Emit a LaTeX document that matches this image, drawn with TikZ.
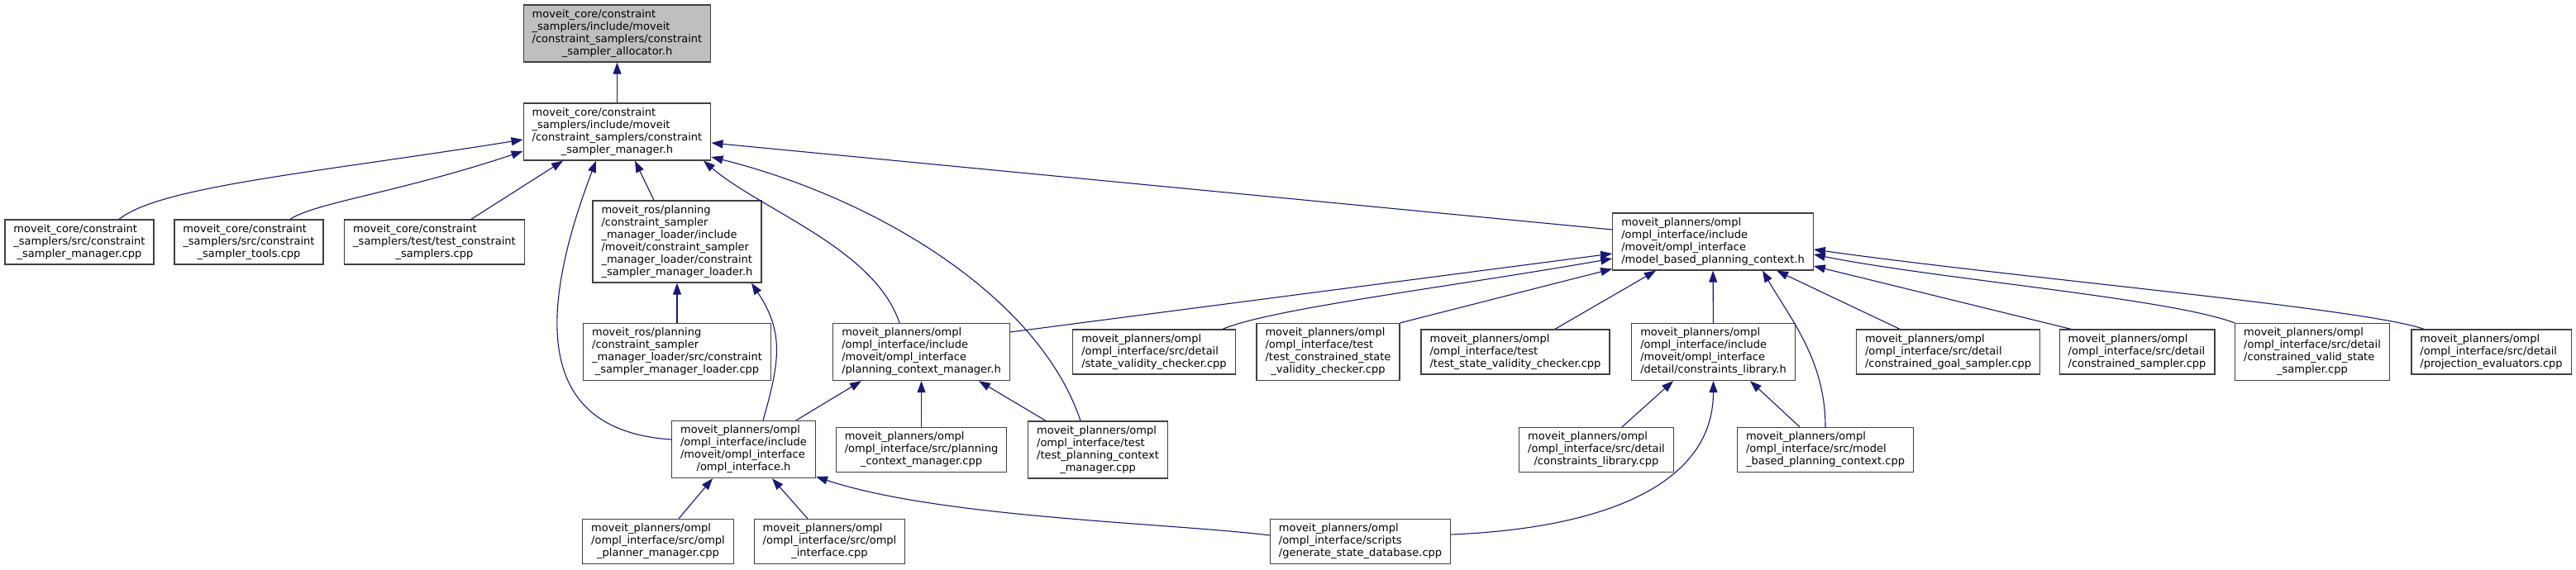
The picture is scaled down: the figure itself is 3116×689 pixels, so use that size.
\documentclass[tikz,border=0pt]{standalone}
\usepackage{fontspec}
\setmainfont{DejaVu Sans}
\usepackage{xcolor}
\usepackage{tikz}
\usetikzlibrary{arrows.meta}
\definecolor{edgeblue}{HTML}{191970}
\definecolor{rootgray}{HTML}{BFBFBF}
\definecolor{boxline}{HTML}{404040}
% lines left, last line centred
\newcommand{\flbl}[2]{\begin{tabular}{@{}l@{}}#1\\\multicolumn{1}{@{}c@{}}{#2}\end{tabular}}

\begin{document}
\begin{tikzpicture}[x=1pt, y=-1pt,
    file/.style={draw=boxline, line width=1.3pt, fill=white, inner xsep=10.5pt, inner ysep=4.5pt,
        font=\fontsize{13}{15}\selectfont},
    root/.style={file, fill=rootgray},
    inc/.style={edgeblue, line width=1.1pt, {Triangle[length=14pt,width=10pt]}-}]
    % Page
    \fill[white] (0,0) rectangle (3116,689);
    % Headers at the top
    \node[root] (alloc) at (746.5,40.5) {\flbl{moveit\_core/constraint\\\_samplers/include/moveit\\/constraint\_samplers/constraint}{\_sampler\_allocator.h}};
    \node[file] (mgrh)  at (746.5,159.5) {\flbl{moveit\_core/constraint\\\_samplers/include/moveit\\/constraint\_samplers/constraint}{\_sampler\_manager.h}};
    % Third row
    \node[file] (smgrcpp)  at (96,293)    {\flbl{moveit\_core/constraint\\\_samplers/src/constraint}{\_sampler\_manager.cpp}};
    \node[file] (toolscpp) at (301,293)   {\flbl{moveit\_core/constraint\\\_samplers/src/constraint}{\_sampler\_tools.cpp}};
    \node[file] (testcs)   at (525.5,293) {\flbl{moveit\_core/constraint\\\_samplers/test/test\_constraint}{\_samplers.cpp}};
    \node[file] (loaderh)  at (819,292.5) {\flbl{moveit\_ros/planning\\/constraint\_sampler\\\_manager\_loader/include\\/moveit/constraint\_sampler\\\_manager\_loader/constraint}{\_sampler\_manager\_loader.h}};
    \node[file] (mbpch)    at (2072,292.5) {\flbl{moveit\_planners/ompl\\/ompl\_interface/include\\/moveit/ompl\_interface}{/model\_based\_planning\_context.h}};
    % Fourth row
    \node[file] (loadercpp) at (819,426)    {\flbl{moveit\_ros/planning\\/constraint\_sampler\\\_manager\_loader/src/constraint}{\_sampler\_manager\_loader.cpp}};
    \node[file] (pcmh)      at (1114.5,426) {\flbl{moveit\_planners/ompl\\/ompl\_interface/include\\/moveit/ompl\_interface}{/planning\_context\_manager.h}};
    \node[file] (svccpp)    at (1396,426)   {\flbl{moveit\_planners/ompl\\/ompl\_interface/src/detail}{/state\_validity\_checker.cpp}};
    \node[file] (testcsvc)  at (1606.5,426) {\flbl{moveit\_planners/ompl\\/ompl\_interface/test\\/test\_constrained\_state}{\_validity\_checker.cpp}};
    \node[file] (testsvc)   at (1833,426)   {\flbl{moveit\_planners/ompl\\/ompl\_interface/test}{/test\_state\_validity\_checker.cpp}};
    \node[file] (clibh)     at (2072.5,426) {\flbl{moveit\_planners/ompl\\/ompl\_interface/include\\/moveit/ompl\_interface}{/detail/constraints\_library.h}};
    \node[file] (cgscpp)    at (2356.5,426) {\flbl{moveit\_planners/ompl\\/ompl\_interface/src/detail}{/constrained\_goal\_sampler.cpp}};
    \node[file] (cscpp)     at (2585,426)   {\flbl{moveit\_planners/ompl\\/ompl\_interface/src/detail}{/constrained\_sampler.cpp}};
    \node[file] (cvsscpp)   at (2797,426)   {\flbl{moveit\_planners/ompl\\/ompl\_interface/src/detail\\/constrained\_valid\_state}{\_sampler.cpp}};
    \node[file] (pecpp)     at (3013.5,426) {\flbl{moveit\_planners/ompl\\/ompl\_interface/src/detail}{/projection\_evaluators.cpp}};
    % Fifth row
    \node[file] (omplh)   at (899.5,544)  {\flbl{moveit\_planners/ompl\\/ompl\_interface/include\\/moveit/ompl\_interface}{/ompl\_interface.h}};
    \node[file] (pcmcpp)  at (1114.5,544.5) {\flbl{moveit\_planners/ompl\\/ompl\_interface/src/planning}{\_context\_manager.cpp}};
    \node[file] (testpcm) at (1328,544.5) {\flbl{moveit\_planners/ompl\\/ompl\_interface/test\\/test\_planning\_context}{\_manager.cpp}};
    \node[file] (clibcpp) at (1931,544.5) {\flbl{moveit\_planners/ompl\\/ompl\_interface/src/detail}{/constraints\_library.cpp}};
    \node[file] (mbpccpp) at (2208,544.5) {\flbl{moveit\_planners/ompl\\/ompl\_interface/src/model}{\_based\_planning\_context.cpp}};
    % Bottom row
    \node[file] (plmgr)   at (796,655.5)    {\flbl{moveit\_planners/ompl\\/ompl\_interface/src/ompl}{\_planner\_manager.cpp}};
    \node[file] (omplcpp) at (1003.5,655.5) {\flbl{moveit\_planners/ompl\\/ompl\_interface/src/ompl}{\_interface.cpp}};
    \node[file] (gsdcpp)  at (1645.5,655.5) {\flbl{moveit\_planners/ompl\\/ompl\_interface/scripts}{/generate\_state\_database.cpp}};
    % Includes of the sampler headers
    \draw[inc] (alloc) -- (mgrh);
    \draw[inc] ([yshift=-9.5pt]mgrh.west) .. controls +(-250,40) and +(50,-40) .. ([xshift=48pt]smgrcpp.north);
    \draw[inc] ([yshift=-23.5pt]mgrh.west) .. controls +(-150,50) and +(30,-20) .. ([xshift=50pt]toolscpp.north);
    \draw[inc] ([xshift=-65.5pt]mgrh.south) -- ([xshift=44.5pt]testcs.north);
    \draw[inc] ([xshift=-25.5pt]mgrh.south) .. controls +(-80,210) and +(-150,-10) .. ([yshift=12pt]omplh.west);
    \draw[inc] ([xshift=21.5pt]mgrh.south) -- ([xshift=-28pt]loaderh.north);
    \draw[inc] ([xshift=104.5pt]mgrh.south) .. controls +(70,60) and +(-30,-90) .. ([xshift=-26.5pt]pcmh.north);
    \draw[inc] ([yshift=-30.5pt]mgrh.east) .. controls +(200,50) and +(-50,-150) .. ([xshift=-21pt]testpcm.north);
    \draw[inc] ([yshift=-13.5pt]mgrh.east) -- ([yshift=14.5pt]mbpch.west);
    % Loader and planning context manager
    \draw[inc] (loaderh) -- (loadercpp);
    \draw[inc] ([xshift=90pt]loaderh.south) .. controls +(40,60) and +(20,-70) .. ([xshift=23.5pt]omplh.north);
    \draw[inc] ([xshift=-72.5pt]pcmh.south) -- ([xshift=63.5pt]omplh.north);
    \draw[inc] (pcmh) -- (pcmcpp);
    \draw[inc] ([xshift=69.5pt]pcmh.south) -- ([xshift=-63pt]testpcm.north);
    % ompl_interface.h
    \draw[inc] ([xshift=-37.5pt]omplh.south) -- ([xshift=25pt]plmgr.north);
    \draw[inc] ([xshift=34.5pt]omplh.south) -- ([xshift=-26.5pt]omplcpp.north);
    \draw[inc] ([yshift=-33pt]omplh.east) .. controls +(150,50) and +(-120,-15) .. ([yshift=7.5pt]gsdcpp.west);
    \draw[inc] (clibh.south) .. controls +(0,130) and +(175,-7) .. ([yshift=8.5pt]gsdcpp.east);
    % model_based_planning_context.h
    \draw[inc] ([yshift=-14.5pt]mbpch.west) -- ([yshift=24pt]pcmh.east);
    \draw[inc] ([yshift=-20.5pt]mbpch.west) .. controls +(-200,35) and +(60,-25) .. ([xshift=83pt]svccpp.north);
    \draw[inc] ([yshift=-33pt]mbpch.west) -- (testcsvc.north east);
    \draw[inc] ([xshift=-69pt]mbpch.south) -- ([xshift=48pt]testsvc.north);
    \draw[inc] (mbpch) -- (clibh);
    \draw[inc] ([xshift=60pt]mbpch.south) .. controls +(35,60) and +(0,-80) .. (mbpccpp.north);
    \draw[inc] ([xshift=77pt]mbpch.south) -- ([xshift=-58.5pt]cgscpp.north);
    \draw[inc] ([yshift=-29.5pt]mbpch.east) -- ([xshift=-80pt]cscpp.north);
    \draw[inc] ([yshift=-15.5pt]mbpch.east) .. controls +(150,30) and +(-80,-30) .. (cvsscpp.north west);
    \draw[inc] ([yshift=-9.5pt]mbpch.east) .. controls +(250,35) and +(-70,-25) .. ([xshift=-81.5pt]pecpp.north);
    % constraints_library.h
    \draw[inc] ([xshift=-48.5pt]clibh.south) -- ([xshift=31pt]clibcpp.north);
    \draw[inc] ([xshift=44.5pt]clibh.south) -- ([xshift=-31pt]mbpccpp.north);
\end{tikzpicture}
\end{document}
